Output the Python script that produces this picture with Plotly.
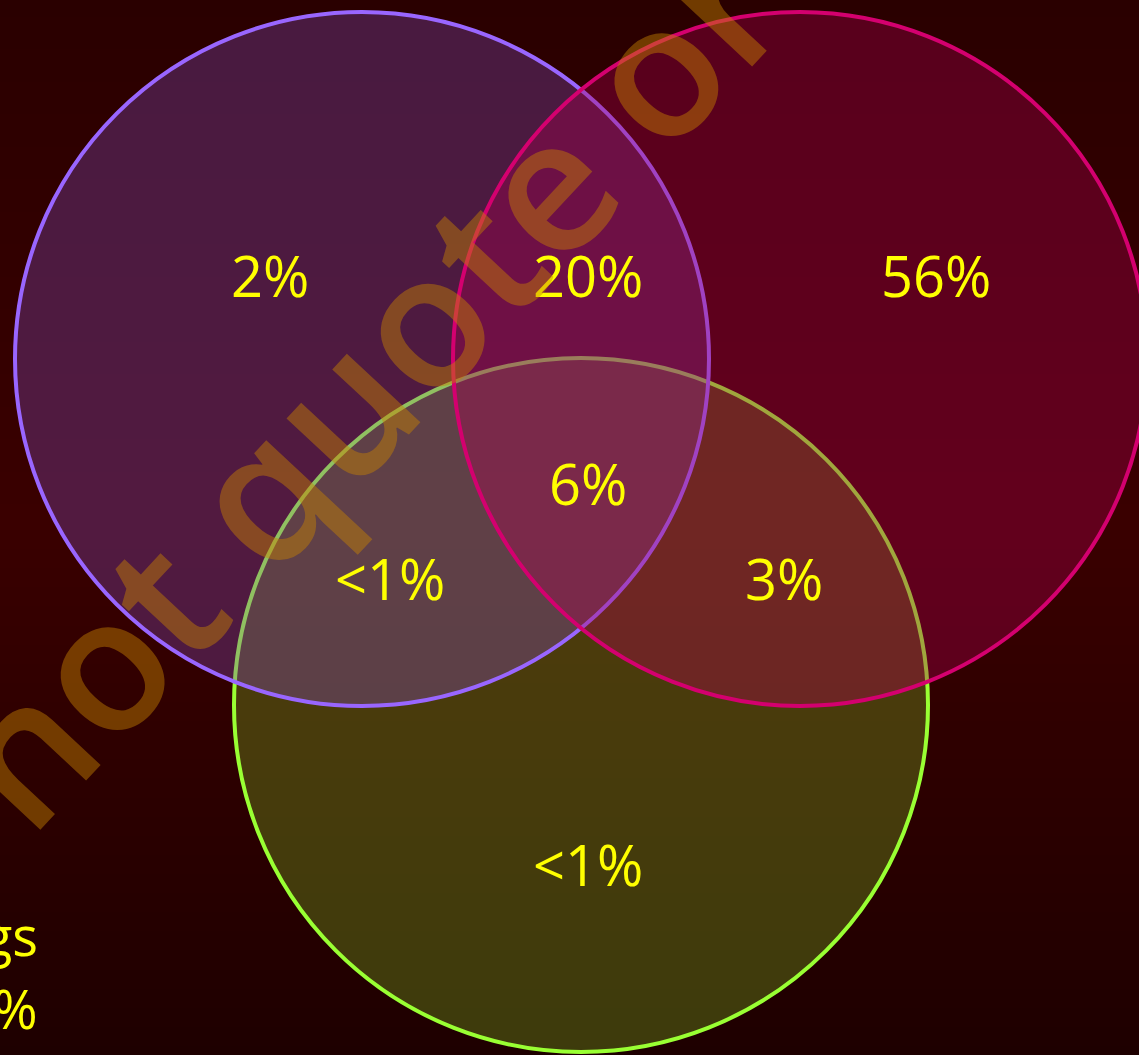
import plotly.graph_objects as go

# ---- data ----
sets = ["A", "B", "C"]                      # purple, magenta, green
region_labels = ["2%", "20%", "56%", "6%", "<1%", "3%", "<1%"]
side_labels = ["gs", "%"]
watermark = "not quote or"

# ---- layout / style (positions in pixel space) ----
W, H = 1139, 1055
circles = {
    "C": dict(cx=581, cy=705, r=347, line="#99ff33", fill="rgba(121,169,34,0.35)"),
    "A": dict(cx=362, cy=359, r=347, line="#9966ff", fill="rgba(129,74,183,0.35)"),
    "B": dict(cx=800, cy=359, r=347, line="#d4006f", fill="rgba(175,0,80,0.35)"),
}
draw_order = ["C", "A", "B"]
label_pos = [(270, 275), (588, 275), (936, 275), (588, 483), (390, 578), (784, 578), (588, 864)]
side_pos = [(40, 935), (40, 1008)]

fig = go.Figure()

# background gradient (style only)
fig.add_trace(go.Heatmap(x=[0, W], y=[0, 520, H], z=[[0, 0], [1, 1], [2, 2]],
                         zsmooth="best", showscale=False, hoverinfo="skip",
                         colorscale=[[0, "#2a0000"], [0.5, "#3a0000"], [1, "#1e0000"]]))

for k in draw_order:
    c = circles[k]
    fig.add_shape(type="circle", xref="x", yref="y",
                  x0=c["cx"] - c["r"], x1=c["cx"] + c["r"],
                  y0=c["cy"] - c["r"], y1=c["cy"] + c["r"],
                  fillcolor=c["fill"], line=dict(color=c["line"], width=4),
                  layer="above")

font = "Open Sans"
for txt, (x, y) in zip(region_labels, label_pos):
    fig.add_annotation(x=x, y=y, text=txt, showarrow=False,
                       font=dict(family=font, size=56, color="#ffff00"),
                       xanchor="center", yanchor="middle")

for txt, (x, y) in zip(side_labels, side_pos):
    fig.add_annotation(x=x, y=y, text=txt, showarrow=False,
                       font=dict(family=font, size=54, color="#ffff00"),
                       xanchor="right", yanchor="middle")

fig.add_annotation(x=360, y=380, text=watermark, showarrow=False, textangle=-47,
                   font=dict(family=font, size=186, weight=600, color="rgba(200,130,0,0.45)"),
                   xanchor="center", yanchor="middle")

fig.update_xaxes(range=[0, W], visible=False, fixedrange=True)
fig.update_yaxes(range=[H, 0], visible=False, fixedrange=True)
fig.update_layout(width=W, height=H, margin=dict(l=0, r=0, t=0, b=0),
                  paper_bgcolor="#2e0000", plot_bgcolor="#2e0000",
                  showlegend=False)

fig.write_html("out.html", config={"displayModeBar": False},
               post_script="document.body.style.margin='0';document.body.style.overflow='hidden';")
